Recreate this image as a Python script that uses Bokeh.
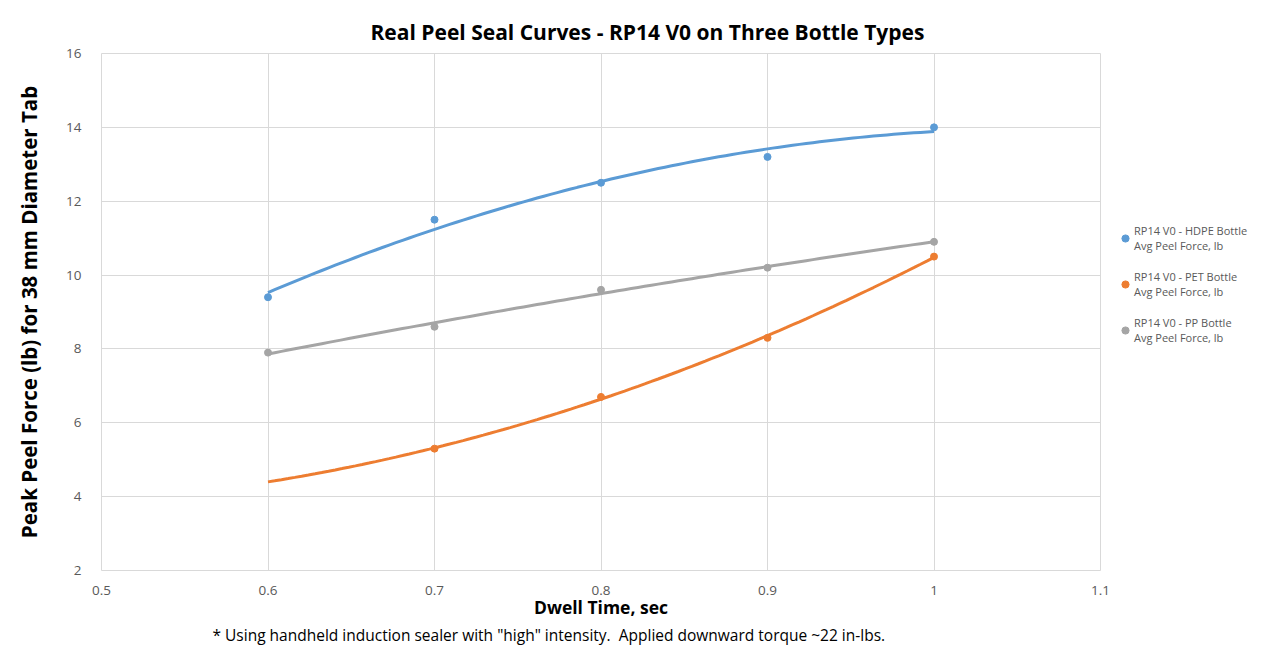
import numpy as np
from bokeh.plotting import figure
from bokeh.models import Legend, LegendItem, FixedTicker, Title
from bokeh.embed import file_html
from bokeh.resources import INLINE

# ---- data ----
hdpe_x = [0.6, 0.7, 0.8, 0.9, 1.0]
hdpe_y = [9.4, 11.5, 12.5, 13.2, 14.0]
pet_x = [0.7, 0.8, 0.9, 1.0]
pet_y = [5.3, 6.7, 8.3, 10.5]
pp_x = [0.6, 0.7, 0.8, 0.9, 1.0]
pp_y = [7.9, 8.6, 9.6, 10.2, 10.9]
trend_range = [0.6, 1.0]
series_names = ["RP14 V0 - HDPE Bottle\nAvg Peel Force, lb",
                "RP14 V0 - PET Bottle\nAvg Peel Force, lb",
                "RP14 V0 - PP Bottle\nAvg Peel Force, lb"]
x_ticks = [0.5, 0.6, 0.7, 0.8, 0.9, 1.0, 1.1]
y_ticks = [2, 4, 6, 8, 10, 12, 14, 16]

colors = ["#5B9BD5", "#ED7D31", "#A5A5A5"]
FONT = "Open Sans"

p = figure(frame_width=999, frame_height=517, output_backend="svg", toolbar_location=None,
           x_range=(0.5, 1.1), y_range=(2, 16),
           min_border_left=101, min_border_right=175, min_border_top=53, min_border_bottom=70)
p.background_fill_color = "white"
p.border_fill_color = "white"
p.outline_line_color = "#D9D9D9"

for ax in (p.xaxis[0], p.yaxis[0]):
    ax.axis_line_color = None
    ax.major_tick_line_color = None
    ax.minor_tick_line_color = None
    ax.major_label_text_font = FONT
    ax.major_label_text_font_size = "13.5px"
    ax.major_label_text_color = "#595959"
    ax.axis_label_text_font = FONT
    ax.axis_label_text_font_style = "bold"
    ax.axis_label_text_color = "#000000"

p.xaxis.ticker = FixedTicker(ticks=x_ticks)
p.yaxis.ticker = FixedTicker(ticks=y_ticks)
p.xaxis.major_label_overrides = {0.5: "0.5", 0.6: "0.6", 0.7: "0.7", 0.8: "0.8",
                                 0.9: "0.9", 1.0: "1", 1.1: "1.1"}
p.xaxis.axis_label = "Dwell Time, sec"
p.xaxis.axis_label_text_font_size = "17.5px"
p.xaxis.major_label_standoff = 9
p.xaxis.axis_label_standoff = -3
p.yaxis.axis_label = "Peak Peel Force (lb) for 38 mm Diameter Tab"
p.yaxis.axis_label_text_font_size = "20.5px"
p.yaxis.major_label_standoff = 14
p.yaxis.axis_label_standoff = 20

p.grid.grid_line_color = "#D9D9D9"
p.grid.grid_line_width = 1

renderers = []
tx = np.linspace(trend_range[0], trend_range[1], 100)
for (xs, ys, c) in [(hdpe_x, hdpe_y, colors[0]), (pet_x, pet_y, colors[1]), (pp_x, pp_y, colors[2])]:
    coef = np.polyfit(xs, ys, 2)
    p.line(tx, np.polyval(coef, tx), line_color=c, line_width=3)
    r = p.scatter(xs, ys, size=7, fill_color=c, line_color=c)
    renderers.append(r)

legend = Legend(items=[LegendItem(label=n, renderers=[r]) for n, r in zip(series_names, renderers)],
                location=(16, 225))
legend.border_line_color = None
legend.background_fill_alpha = 0
legend.label_text_font = FONT
legend.label_text_font_size = "11px"
legend.label_text_line_height = 1.35
legend.label_text_color = "#595959"
legend.spacing = 16
legend.glyph_width = 18
legend.glyph_height = 18
legend.label_standoff = 0
legend.padding = 10
legend.margin = 0
p.add_layout(legend, "right")

p.add_layout(Title(text="Real Peel Seal Curves - RP14 V0 on Three Bottle Types",
                   text_font=FONT, text_font_style="bold", text_font_size="21px",
                   align="left", offset=269, standoff=15, text_color="#000000"), "above")
p.add_layout(Title(text='* Using handheld induction sealer with "high" intensity.\u00a0 Applied downward torque ~22 in-lbs.',
                   text_font=FONT, text_font_style="normal", text_font_size="15.5px",
                   align="left", offset=111, standoff=0, text_color="#000000"), "below")

open("out.html", "w").write(file_html(p, INLINE))
